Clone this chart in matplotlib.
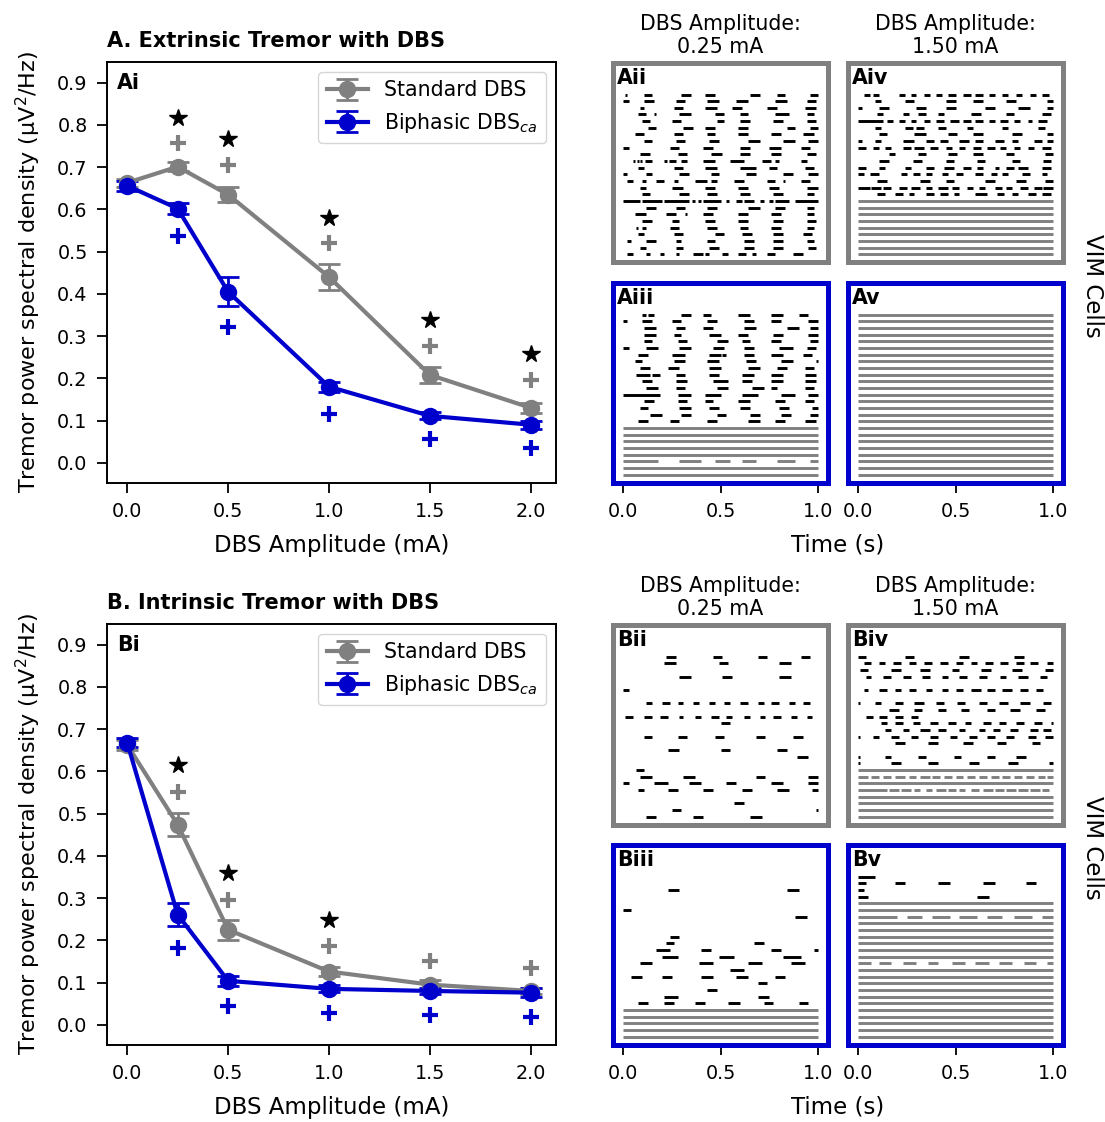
import matplotlib
matplotlib.use('Agg')
import matplotlib.pyplot as plt
import numpy as np

GRAY = '#808080'
BLUE = '#0000cd'

amps = [0.0, 0.25, 0.5, 1.0, 1.5, 2.0]
sig_amps = [0.25, 0.5, 1.0, 1.5, 2.0]

# A: extrinsic tremor
ext_std = [0.663, 0.701, 0.635, 0.440, 0.208, 0.130]
ext_std_err = [0.010, 0.010, 0.018, 0.030, 0.018, 0.012]
ext_bip = [0.656, 0.602, 0.405, 0.180, 0.111, 0.090]
ext_bip_err = [0.012, 0.012, 0.035, 0.012, 0.008, 0.010]
ext_star = [0.817, 0.767, 0.580, 0.339, 0.258]
ext_plus_std = [0.756, 0.706, 0.521, 0.277, 0.197]
ext_plus_bip = [0.538, 0.322, 0.116, 0.057, 0.036]

# B: intrinsic tremor
int_std = [0.663, 0.474, 0.225, 0.126, 0.095, 0.080]
int_std_err = [0.012, 0.028, 0.024, 0.010, 0.010, 0.008]
int_bip = [0.668, 0.261, 0.104, 0.085, 0.080, 0.076]
int_bip_err = [0.010, 0.028, 0.012, 0.008, 0.008, 0.010]
int_star = [0.616, 0.360, 0.249]
int_plus_std = [0.552, 0.296, 0.187, 0.152, 0.135]
int_plus_bip = [0.182, 0.045, 0.028, 0.024, 0.019]

# raster rows (top to bottom): burst "start-end" times in s, "g:" = tonic (gray)
FULL = "g:0.00-1.00"

raster_Aii = [
    "0.01-0.02 0.11-0.15 0.30-0.35 0.42-0.47 0.65-0.70 0.79-0.83 0.96-1.00",
    "0.00-0.03 0.11-0.16 0.27-0.32 0.43-0.49 0.58-0.64 0.78-0.84 0.94-0.99",
    "0.09-0.11 0.26-0.31 0.42-0.48 0.56-0.61 0.74-0.79 0.93-0.99",
    "0.08-0.12 0.16-0.17 0.29-0.35 0.47-0.52 0.60-0.64 0.78-0.85 0.94-0.98",
    "0.10-0.14 0.25-0.30 0.48-0.52 0.60-0.65 0.77-0.82 0.94-0.99",
    "0.13-0.17 0.31-0.36 0.42-0.47 0.59-0.64 0.84-0.88 0.96-1.00",
    "0.06-0.11 0.26-0.31 0.43-0.47 0.59-0.64 0.76-0.81 0.92-0.98",
    "0.11-0.15 0.27-0.32 0.44-0.49 0.64-0.70 0.82-0.88 0.95-1.00",
    "0.00-0.03 0.24-0.29 0.41-0.46 0.60-0.65 0.75-0.81 0.91-0.96",
    "0.09-0.14 0.28-0.33 0.45-0.51 0.60-0.65 0.76-0.81 0.94-0.99",
    "0.05-0.06 0.075-0.085 0.09-0.10 0.115-0.15 0.21-0.225 0.235-0.27 0.30-0.33 0.41-0.47 0.55-0.62 0.71-0.76 0.78-0.80 0.91-0.94",
    "0.08-0.11 0.26-0.31 0.42-0.48 0.60-0.68 0.75-0.79 0.93-0.98",
    "0.00-0.02 0.12-0.15 0.29-0.34 0.45-0.49 0.63-0.68 0.82-0.87 0.95-1.00",
    "0.02-0.05 0.10-0.12 0.17-0.21 0.26-0.28 0.37-0.43 0.45-0.48 0.57-0.62 0.74-0.78 0.82-0.83 0.91-0.96",
    "0.09-0.12 0.25-0.31 0.42-0.47 0.59-0.64 0.75-0.80 0.94-1.00",
    "0.10-0.14 0.29-0.34 0.43-0.48 0.60-0.65 0.77-0.82 0.94-0.98",
    "0.00-0.09 0.10-0.20 0.21-0.34 0.355-0.37 0.385-0.40 0.41-0.50 0.53-0.545 0.58-0.61 0.62-0.67 0.70-0.72 0.75-0.77 0.78-0.85 0.88-1.00",
    "0.12-0.17 0.27-0.32 0.43-0.48 0.64-0.70 0.78-0.83 0.94-0.98",
    "0.06-0.12 0.22-0.27 0.32-0.33 0.41-0.46 0.59-0.64 0.76-0.81 0.94-0.98",
    "0.10-0.15 0.25-0.29 0.42-0.47 0.59-0.64 0.77-0.82 0.94-0.99",
    "0.07-0.08 0.10-0.12 0.24-0.29 0.43-0.48 0.60-0.64 0.76-0.81 0.94-0.98",
    "0.08-0.11 0.26-0.31 0.47-0.52 0.61-0.66 0.77-0.82 0.92-0.97",
    "0.02-0.04 0.12-0.17 0.27-0.30 0.43-0.47 0.62-0.67 0.77-0.82 0.94-0.98",
    "0.09-0.12 0.27-0.31 0.44-0.49 0.62-0.67 0.77-0.82 0.95-0.99",
    "0.02-0.05 0.12-0.14 0.19-0.21 0.27-0.29 0.36-0.41 0.42-0.44 0.51-0.54 0.59-0.63 0.66-0.68 0.74-0.78 0.87-0.92",
]

raster_Aiii = [
    "0.10-0.12 0.13-0.16 0.30-0.35 0.41-0.45 0.59-0.65 0.76-0.82 0.90-0.95",
    "0.00-0.02 0.10-0.15 0.25-0.30 0.43-0.48 0.62-0.67 0.76-0.81 0.95-1.00",
    "0.11-0.17 0.27-0.32 0.41-0.46 0.62-0.68 0.84-0.90 0.96-1.00",
    "0.11-0.17 0.26-0.30 0.44-0.50 0.59-0.64 0.77-0.82 0.95-1.00",
    "0.11-0.15 0.28-0.33 0.48-0.54 0.61-0.65 0.76-0.81 0.96-1.00",
    "0.00-0.03 0.12-0.18 0.29-0.35 0.46-0.52 0.62-0.67 0.80-0.87 0.94-0.99",
    "0.08-0.13 0.25-0.32 0.44-0.50 0.51-0.53 0.62-0.67 0.76-0.82 0.92-0.97",
    "0.06-0.10 0.26-0.32 0.43-0.49 0.63-0.68 0.81-0.87 0.99-1.00",
    "0.09-0.14 0.23-0.29 0.44-0.50 0.64-0.70 0.79-0.84 0.93-0.98",
    "0.07-0.14 0.15-0.19 0.27-0.32 0.44-0.49 0.61-0.67 0.76-0.82 0.93-0.99",
    "0.10-0.15 0.27-0.33 0.46-0.54 0.61-0.66 0.76-0.82 0.93-0.99",
    "0.12-0.18 0.27-0.32 0.48-0.54 0.66-0.72 0.76-0.79 0.93-0.98",
    "0.00-0.19 0.28-0.35 0.42-0.50 0.61-0.69 0.81-0.88 0.95-1.00",
    "0.11-0.16 0.28-0.33 0.42-0.46 0.59-0.65 0.78-0.83 0.93-0.98",
    "0.09-0.13 0.29-0.35 0.44-0.49 0.60-0.65 0.80-0.85 0.97-1.00",
    "0.14-0.20 0.30-0.35 0.48-0.53 0.65-0.70 0.81-0.86 0.96-1.00",
    "0.08-0.13 0.24-0.29 0.43-0.48 0.64-0.70 0.78-0.83 0.93-0.99",
    FULL, FULL, FULL, FULL, FULL,
    "g:0.00-0.18 0.29-0.40 0.47-0.55 0.61-0.68 0.79-0.88 0.96-1.00",
    FULL, FULL,
]

raster_Aiv = [
    "0.03-0.06 0.08-0.11 0.21-0.24 0.27-0.30 0.34-0.37 0.40-0.43 0.46-0.50 0.54-0.58 0.60-0.64 0.67-0.70 0.74-0.77 0.81-0.84 0.88-0.91 0.94-0.98",
    "0.09-0.12 0.24-0.29 0.45-0.50 0.59-0.64 0.76-0.81 0.97-1.00",
    "0.00-0.02 0.11-0.16 0.30-0.35 0.45-0.50 0.65-0.70 0.82-0.88 0.97-1.00",
    "0.10-0.13 0.23-0.26 0.31-0.35 0.41-0.44 0.58-0.63 0.76-0.80 0.94-0.99",
    "0.00-0.13 0.15-0.18 0.21-0.24 0.27-0.30 0.34-0.37 0.40-0.44 0.47-0.52 0.54-0.58 0.60-0.64 0.67-0.70 0.73-0.77 0.80-0.83 0.87-0.89 0.92-0.97",
    "0.09-0.12 0.24-0.28 0.30-0.34 0.41-0.45 0.56-0.59 0.74-0.77 0.92-0.96",
    "0.11-0.15 0.29-0.35 0.46-0.51 0.59-0.64 0.79-0.84 0.97-1.00",
    "0.00-0.02 0.09-0.12 0.23-0.29 0.35-0.39 0.42-0.46 0.52-0.57 0.60-0.64 0.70-0.75 0.79-0.82 0.90-0.94 0.97-1.00",
    "0.00-0.04 0.08-0.11 0.14-0.17 0.23-0.27 0.29-0.34 0.37-0.41 0.45-0.48 0.52-0.55 0.59-0.63 0.66-0.70 0.73-0.76 0.80-0.83 0.87-0.90 0.94-0.99",
    "0.16-0.19 0.31-0.35 0.46-0.51 0.59-0.64 0.76-0.80 0.96-1.00",
    "0.11-0.16 0.28-0.33 0.45-0.49 0.61-0.65 0.79-0.83 0.95-0.99",
    "0.00-0.04 0.11-0.14 0.24-0.27 0.35-0.39 0.44-0.49 0.54-0.58 0.61-0.64 0.70-0.72 0.76-0.80 0.82-0.87 0.94-0.99",
    "0.00-0.03 0.06-0.11 0.22-0.25 0.28-0.32 0.35-0.38 0.43-0.46 0.50-0.54 0.60-0.64 0.68-0.71 0.74-0.77 0.84-0.88 0.94-0.97",
    "0.10-0.15 0.32-0.37 0.45-0.49 0.65-0.70 0.81-0.86 0.96-1.00",
    "0.00-0.06 0.07-0.12 0.13-0.17 0.21-0.25 0.27-0.32 0.35-0.38 0.41-0.46 0.48-0.52 0.56-0.59 0.62-0.65 0.70-0.74 0.76-0.79 0.83-0.87 0.90-0.94 0.95-1.00",
    "0.10-0.14 0.19-0.23 0.26-0.29 0.35-0.39 0.42-0.46 0.49-0.52 0.60-0.66 0.71-0.75 0.79-0.82 0.87-0.91 0.94-0.99",
    FULL, FULL, FULL, FULL, FULL, FULL, FULL, FULL, FULL,
]

raster_Av = [FULL] * 25

raster_Bii = [
    "0.22-0.27 0.46-0.51 0.69-0.74 0.91-0.96",
    "0.21-0.27 0.49-0.54 0.80-0.86",
    "",
    "0.29-0.35 0.51-0.56 0.80-0.86",
    "",
    "0.00-0.03",
    "",
    "0.12-0.15 0.20-0.24 0.28-0.31 0.36-0.39 0.44-0.47 0.52-0.55 0.60-0.64 0.69-0.72 0.76-0.80 0.85-0.88 0.92-0.96",
    "",
    "0.01-0.05 0.11-0.15 0.19-0.23 0.29-0.31 0.37-0.40 0.45-0.49 0.53-0.56 0.62-0.65 0.70-0.73 0.77-0.81 0.86-0.89 0.94-0.97",
    "0.50-0.55",
    "",
    "0.11-0.15 0.28-0.33 0.47-0.52 0.68-0.73 0.87-0.92",
    "",
    "0.23-0.29 0.50-0.55 0.79-0.84",
    "0.89-0.95",
    "",
    "0.07-0.11",
    "0.09-0.15 0.31-0.37 0.68-0.73 0.95-1.00",
    "0.00-0.03 0.16-0.23 0.34-0.40 0.53-0.58 0.76-0.82 0.95-1.00",
    "0.08-0.11 0.23-0.28 0.41-0.46 0.61-0.66 0.79-0.85 0.97-1.00",
    "",
    "0.57-0.62",
    "0.25-0.30 0.99-1.00",
    "0.12-0.17 0.36-0.41 0.65-0.71",
]

raster_Biii = [
    "", "",
    "0.23-0.29 0.84-0.90",
    "", "",
    "0.00-0.04",
    "0.88-0.94",
    "", "",
    "0.24-0.29",
    "0.22-0.26 0.67-0.72",
    "0.17-0.24 0.40-0.45 0.76-0.81 0.98-1.00",
    "0.20-0.28 0.49-0.57 0.82-0.91",
    "0.09-0.15 0.39-0.46 0.64-0.71 0.86-0.93",
    "0.55-0.62",
    "0.04-0.10 0.20-0.25 0.40-0.46 0.58-0.64 0.78-0.83",
    "0.69-0.74",
    "0.43-0.48",
    "0.21-0.28 0.69-0.75",
    "0.08-0.13 0.21-0.26 0.37-0.42 0.54-0.60 0.72-0.77 0.90-0.95",
    FULL, FULL, FULL, FULL, FULL,
]

raster_Biv = [
    "0.00-0.04 0.24-0.29 0.52-0.57 0.80-0.85",
    "0.03-0.07 0.11-0.14 0.18-0.22 0.26-0.30 0.34-0.38 0.42-0.46 0.50-0.54 0.58-0.61 0.65-0.69 0.73-0.77 0.81-0.85 0.88-0.92 0.97-1.00",
    "0.01-0.05 0.17-0.22 0.32-0.37 0.48-0.52 0.63-0.68 0.79-0.84 0.96-1.00",
    "0.04-0.07 0.13-0.17 0.23-0.27 0.33-0.37 0.43-0.46 0.52-0.56 0.62-0.66 0.73-0.76 0.82-0.87 0.93-0.97",
    "",
    "0.03-0.05 0.11-0.15 0.19-0.22 0.26-0.30 0.35-0.38 0.43-0.46 0.50-0.54 0.58-0.63 0.66-0.70 0.74-0.79 0.83-0.87 0.91-0.95",
    "",
    "0.00-0.01 0.09-0.12 0.19-0.23 0.29-0.34 0.40-0.44 0.51-0.55 0.62-0.66 0.72-0.77 0.83-0.88 0.95-0.99",
    "0.16-0.21 0.29-0.33 0.41-0.45 0.53-0.57 0.66-0.70 0.78-0.83 0.91-0.96",
    "0.04-0.08 0.11-0.15 0.19-0.23 0.27-0.31",
    "0.12-0.15 0.19-0.23 0.28-0.32 0.37-0.41 0.46-0.50 0.55-0.58 0.64-0.68 0.72-0.76 0.81-0.85 0.90-0.94 0.99-1.00",
    "0.14-0.17 0.23-0.26 0.32-0.37 0.41-0.45 0.52-0.55 0.62-0.65 0.69-0.73 0.78-0.82 0.88-0.92 0.95-0.99",
    "0.00-0.01 0.08-0.11 0.17-0.21 0.27-0.31 0.37-0.41 0.47-0.51 0.57-0.61 0.66-0.70 0.76-0.80 0.87-0.91 0.96-1.00",
    "0.19-0.24 0.36-0.41 0.54-0.59 0.71-0.76 0.89-0.93",
    "",
    "0.00-0.01 0.14-0.17 0.31-0.35 0.49-0.53 0.66-0.70 0.81-0.86",
    "0.00-0.01 0.17-0.22 0.36-0.41 0.57-0.62 0.77-0.82 0.98-1.00",
    FULL,
    "g:0.00-0.05 0.07-0.11 0.13-0.17 0.19-0.24 0.26-0.30 0.32-0.37 0.38-0.42 0.44-0.48 0.50-0.54 0.56-0.60 0.62-0.66 0.68-0.72 0.74-0.78 0.80-0.84 0.86-0.90 0.92-0.96 0.97-1.00",
    FULL,
    "g:0.00-0.15 0.16-0.21 0.22-0.27 0.29-0.32 0.35-0.38 0.40-0.45 0.46-0.50 0.52-0.55 0.58-0.62 0.64-0.69 0.70-0.75 0.76-0.81 0.82-0.87 0.88-0.93 0.94-0.98",
    FULL, FULL, FULL, FULL,
]

raster_Bv = [
    "0.00-0.09",
    "0.00-0.04 0.19-0.24 0.41-0.47 0.64-0.70 0.86-0.91",
    "0.00-0.03",
    "0.00-0.05 0.61-0.67",
    FULL, FULL,
    "g:0.00-0.20 0.25-0.33 0.38-0.47 0.52-0.61 0.66-0.74 0.80-0.89 0.94-1.00",
    FULL, FULL, FULL, FULL, FULL, FULL,
    "g:0.00-0.07 0.11-0.17 0.23-0.30 0.36-0.41 0.48-0.55 0.60-0.67 0.72-0.79 0.85-0.91 0.97-1.00",
    FULL, FULL, FULL, FULL, FULL, FULL, FULL, FULL, FULL, FULL, FULL,
]

TICK = 13.8
LAB = 16.5
TIT = 14.8

fig = plt.figure(figsize=(11.05, 11.22), dpi=100)
W, H = 1105.0, 1122.0


def box(x0, y0, x1, y1):
    return [x0 / W, 1 - y1 / H, (x1 - x0) / W, (y1 - y0) / H]


def summary(ax, std, std_err, bip, bip_err, star, plus_std, plus_bip, title, tag):
    ax.errorbar(amps, std, yerr=std_err, color=GRAY, lw=3, marker='o', ms=11.5,
                capsize=8, capthick=2, elinewidth=2, label='Standard DBS')
    ax.errorbar(amps, bip, yerr=bip_err, color=BLUE, lw=3, marker='o', ms=11.5,
                capsize=8, capthick=2, elinewidth=2, label='Biphasic DBS$_{ca}$')
    ax.plot(sig_amps[:len(star)], star, ls='none', marker='*', color='black', ms=13)
    ax.plot(sig_amps, plus_std, ls='none', marker='+', color=GRAY, ms=12, mew=3)
    ax.plot(sig_amps, plus_bip, ls='none', marker='+', color=BLUE, ms=12, mew=3)
    ax.set_xlim(-0.1, 2.125)
    ax.set_ylim(-0.048, 0.949)
    ax.set_xticks([0.0, 0.5, 1.0, 1.5, 2.0])
    ax.set_yticks(np.arange(0, 0.95, 0.1))
    ax.tick_params(labelsize=TICK, length=7, width=1.3, pad=7)
    for s in ax.spines.values():
        s.set_linewidth(1.4)
    ax.set_xlabel('DBS Amplitude (mA)', fontsize=LAB, labelpad=9)
    ax.set_ylabel('Tremor power spectral density (μV$^2$/Hz)', fontsize=LAB - 0.5,
                  labelpad=10)
    ax.set_title(title, loc='left', fontweight='bold', fontsize=TIT + 0.2, pad=11)
    ax.text(0.022, 0.975, tag, transform=ax.transAxes, ha='left', va='top',
            fontweight='bold', fontsize=TIT)
    ax.legend(loc='upper right', fontsize=TIT)


def raster(ax, rows, frame, tag, bottom):
    for i, row in enumerate(rows):
        color = 'black'
        if row.startswith('g:'):
            color = GRAY
            row = row[2:]
        spans = [[float(v) for v in p.split('-')] for p in row.split()]
        if spans:
            s = np.array(spans)
            ax.hlines(np.full(len(s), i), s[:, 0], s[:, 1], colors=color,
                      lw=2.1, capstyle='butt')
    ax.set_xlim(-0.05, 1.05)
    ax.set_ylim(25.2, -4.8)
    ax.set_yticks([])
    for s in ax.spines.values():
        s.set_linewidth(3.6)
        s.set_color(frame)
    if bottom:
        ax.set_xticks([0.0, 0.5, 1.0])
        ax.tick_params(labelsize=TICK, length=7, width=1.3, pad=7)
    else:
        ax.set_xticks([])
    ax.text(0.02, 0.975, tag, transform=ax.transAxes, ha='left', va='top',
            fontweight='bold', fontsize=TIT)


for dy, letter, data in [(0, 'A', (ext_std, ext_std_err, ext_bip, ext_bip_err, ext_star,
                                    ext_plus_std, ext_plus_bip, 'A. Extrinsic Tremor with DBS')),
                         (562, 'B', (int_std, int_std_err, int_bip, int_bip_err, int_star,
                                     int_plus_std, int_plus_bip, 'B. Intrinsic Tremor with DBS'))]:
    ax = fig.add_axes(box(107, 62 + dy, 556, 483 + dy))
    summary(ax, *data, letter + 'i')

    rasters = {'A': (raster_Aii, raster_Aiii, raster_Aiv, raster_Av),
               'B': (raster_Bii, raster_Biii, raster_Biv, raster_Bv)}[letter]
    a1 = fig.add_axes(box(613, 62.5 + dy, 828, 262.5 + dy))
    raster(a1, rasters[0], GRAY, letter + 'ii', False)
    a1.set_title('DBS Amplitude:\n0.25 mA', fontsize=TIT, pad=7)
    a2 = fig.add_axes(box(613, 282.5 + dy, 828, 482.5 + dy))
    raster(a2, rasters[1], BLUE, letter + 'iii', True)
    a3 = fig.add_axes(box(848, 62.5 + dy, 1063, 262.5 + dy))
    raster(a3, rasters[2], GRAY, letter + 'iv', False)
    a3.set_title('DBS Amplitude:\n1.50 mA', fontsize=TIT, pad=7)
    a4 = fig.add_axes(box(848, 282.5 + dy, 1063, 482.5 + dy))
    raster(a4, rasters[3], BLUE, letter + 'v', True)

    fig.text(838 / W, 1 - (545 + dy) / H, 'Time (s)', ha='center', va='center', fontsize=LAB)
    fig.text(1093 / W, 1 - (286 + dy) / H, 'VIM Cells', ha='center', va='center',
             rotation=-90, fontsize=LAB)

fig.savefig('out.png', dpi=100)
